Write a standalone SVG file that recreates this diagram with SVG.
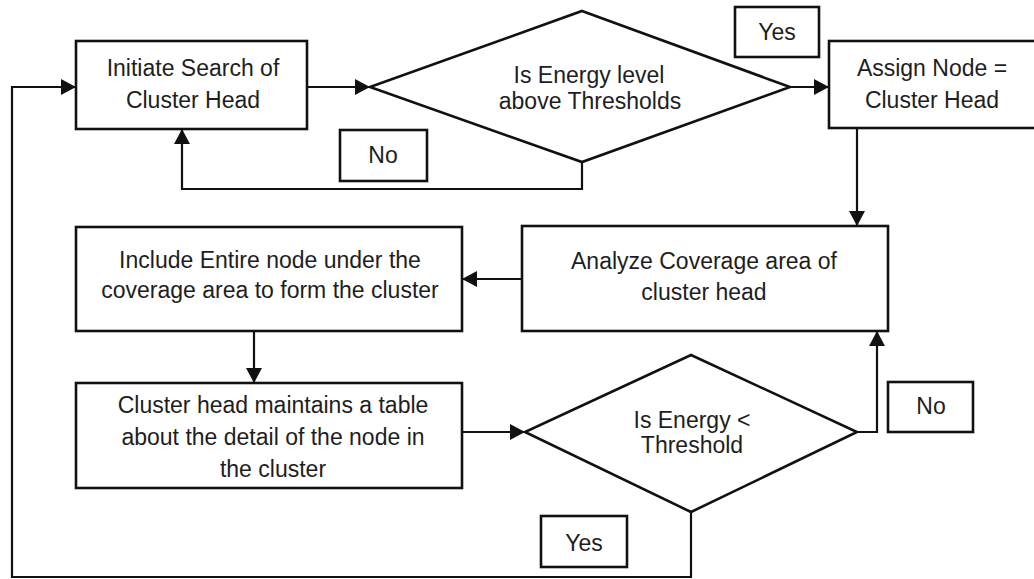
<svg xmlns="http://www.w3.org/2000/svg" width="1034" height="579" viewBox="0 0 1034 579">
<style>
.box{fill:#fff;stroke:#111;stroke-width:2.6}
.lbl{fill:#fff;stroke:#111;stroke-width:2.6}
.con{fill:none;stroke:#111;stroke-width:2.2}
text{font-family:"Liberation Sans",Arial,sans-serif;font-size:23px;fill:#1e1e1e;text-anchor:middle}
</style>
<defs>
<marker id="ah" markerUnits="userSpaceOnUse" markerWidth="15" markerHeight="16" refX="15" refY="8" orient="auto">
<path d="M0,0 L15,8 L0,16 z" fill="#111"/>
</marker>
</defs>
<rect width="1034" height="579" fill="#fff"/>
<g id="connectors">
<path class="con" d="M307,87 L370,87" marker-end="url(#ah)"/>
<path class="con" d="M790,87 L829,87" marker-end="url(#ah)"/>
<path class="con" d="M582,162 L582,189 L182,189 L182,129" marker-end="url(#ah)"/>
<path class="con" d="M857,128 L857,226" marker-end="url(#ah)"/>
<path class="con" d="M522,279 L462,279" marker-end="url(#ah)"/>
<path class="con" d="M254,331 L254,383" marker-end="url(#ah)"/>
<path class="con" d="M462,432 L525,432" marker-end="url(#ah)"/>
<path class="con" d="M857,432 L877,432 L877,331" marker-end="url(#ah)"/>
<path class="con" d="M691,512 L691,577 L12,577 L12,87 L76,87" marker-end="url(#ah)"/>
</g>
<g id="initiate">
<rect class="box" x="76" y="41" width="231" height="88"/>
<text x="193" y="76">Initiate Search of</text>
<text x="193" y="108">Cluster Head</text>
</g>
<g id="decision1">
<polygon class="box" points="582,11 790,87 582,162 370,87"/>
<text x="589" y="83">Is Energy level</text>
<text x="590" y="109">above Thresholds</text>
</g>
<g id="assign">
<rect class="box" x="829" y="41" width="210" height="87"/>
<text x="932" y="76">Assign Node =</text>
<text x="932" y="108">Cluster Head</text>
</g>
<g id="analyze">
<rect class="box" x="522" y="226" width="366" height="105"/>
<text x="704" y="269">Analyze Coverage area of</text>
<text x="704" y="300">cluster head</text>
</g>
<g id="include">
<rect class="box" x="76" y="227" width="386" height="104"/>
<text x="270" y="268">Include Entire node under the</text>
<text x="270" y="298">coverage area to form the cluster</text>
</g>
<g id="table">
<rect class="box" x="76" y="383" width="386" height="105"/>
<text x="273" y="413">Cluster head maintains a table</text>
<text x="273" y="445">about the detail of the node in</text>
<text x="273" y="477">the cluster</text>
</g>
<g id="decision2">
<polygon class="box" points="691,355 857,432 691,512 525,432"/>
<text x="692" y="428">Is Energy &lt;</text>
<text x="692" y="453">Threshold</text>
</g>
<g id="label-yes-top">
<rect class="lbl" x="735" y="7" width="84" height="50"/>
<text x="777" y="40">Yes</text>
</g>
<g id="label-no-top">
<rect class="lbl" x="340" y="130" width="87" height="51"/>
<text x="383" y="163">No</text>
</g>
<g id="label-no-right">
<rect class="lbl" x="888" y="382" width="85" height="50"/>
<text x="931" y="414">No</text>
</g>
<g id="label-yes-bottom">
<rect class="lbl" x="541" y="516" width="86" height="51"/>
<text x="584" y="551">Yes</text>
</g>
</svg>
